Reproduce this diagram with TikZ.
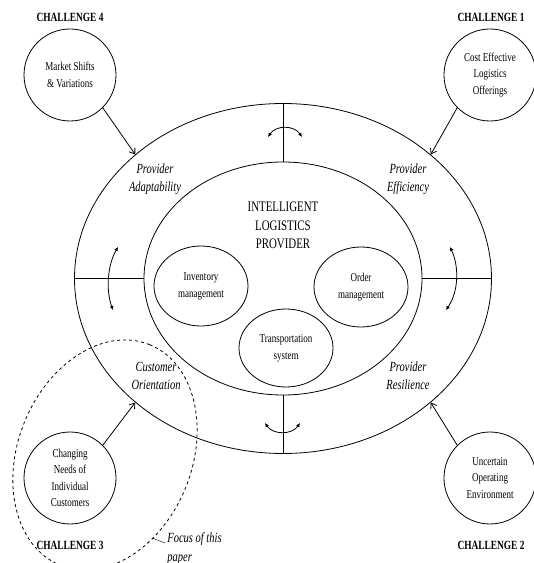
\documentclass[tikz,border=0pt]{standalone}
\usepackage{fontspec}
\setmainfont{Liberation Serif}[FakeStretch=0.75]
\usetikzlibrary{shapes,positioning,calc,arrows.meta}

\begin{document}
\begin{tikzpicture}
  [x=1pt,y=1pt,thick,
   ringN/.style={draw,ellipse,inner sep=0pt},
   chalN/.style={draw,circle,minimum size=92pt,inner sep=0pt,align=center,
                 font=\fontsize{12}{16.5}\selectfont},
   chalL/.style={font=\bfseries\fontsize{12.5}{15}\selectfont},
   funcN/.style={draw,ellipse,minimum width=94pt,minimum height=80pt,inner sep=0pt,
                 align=center,font=\fontsize{12}{17}\selectfont},
   areaL/.style={align=center,font=\itshape\fontsize{14}{18}\selectfont},
   pushA/.style={-{Straight Barb[length=5pt,width=7pt]}},
   swapA/.style={{Latex[length=4pt,width=4pt]}-{Latex[length=4pt,width=4pt]}},
  ]
 \useasboundingbox (0,0) rectangle (534,563);

 % rings
 \node[ringN,minimum width=417pt,minimum height=350pt] (outer) at (283,284.5) {};
 \node[ringN,minimum width=278pt,minimum height=233pt] (inner) at (283,284.5) {};
 \draw (inner.north) -- (outer.north);
 \draw (inner.south) -- (outer.south);
 \draw (inner.west) -- (outer.west);
 \draw (inner.east) -- (outer.east);

 \node[align=center,font=\fontsize{14.5}{18.5}\selectfont] (ilp) at (283,337.5)
   {INTELLIGENT\\LOGISTICS\\PROVIDER};
 \node[funcN] (inv) at (201,277) {Inventory\\management};
 \node[funcN] (ord) at (361,276) {Order\\management};
 \node[funcN,minimum height=78pt] (trans) at (286,215) {Transportation\\system};

 \node[areaL] (adapt) at (155,384) {Provider\\Adaptability};
 \node[areaL] (effic) at (408,384) {Provider\\Efficiency};
 \node[areaL] (custo) at (156,187) {Customer\\Orientation};
 \node[areaL] (resil) at (408,187) {Provider\\Resilience};

 % swap arrows
 \draw[swapA] (268,426) .. controls (276,438) and (294,438) .. (302,426);
 \draw[swapA] (265,140) .. controls (273,128) and (292,128) .. (300,140);
 \draw[swapA] (118,316) .. controls (107,297) and (106,272) .. (113,253);
 \draw[swapA] (450,316) .. controls (459,297) and (459,272) .. (446,253);

 % challenges
 \node[chalN] (market) at (70,488) {Market Shifts\\\& Variations};
 \node[chalN] (cost) at (490,488) {Cost Effective\\Logistics\\Offerings};
 \node[chalN] (uncert) at (490,85) {Uncertain\\Operating\\Environment};
 \node[chalN] (needs) at (70,85) {Changing\\Needs of\\Individual\\Customers};
 \node[chalL] (ch4) at (70,546) {CHALLENGE 4};
 \node[chalL] (ch1) at (491,546) {CHALLENGE 1};
 \node[chalL] (ch3) at (70,18) {CHALLENGE 3};
 \node[chalL] (ch2) at (491,18) {CHALLENGE 2};

 \draw[pushA] (market.-45) -- (outer.140);
 \draw[pushA] (cost.-135) -- (outer.40);
 \draw[pushA] (uncert.135) -- (outer.-40);
 \draw[pushA] (needs.45) -- (outer.-140);

 % focus
 \node[draw,dashed,ellipse,minimum width=238pt,minimum height=174pt,inner sep=0pt,
       rotate=68] (focus) at (105,108) {};
 \node[anchor=north west,align=left,inner sep=0pt,
       font=\itshape\fontsize{14}{19}\selectfont] (focustxt) at (167,31)
   {Focus of this\\paper};
 \coordinate (leadend) at (165,20);
 \draw[thin] (focus.-128) -- (leadend);
\end{tikzpicture}
\end{document}
